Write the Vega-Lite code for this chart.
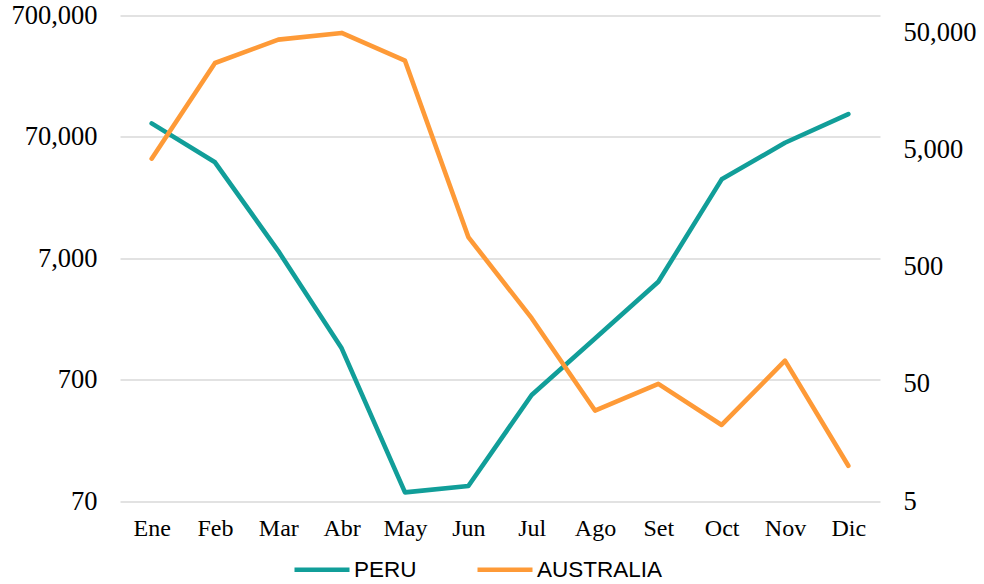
{
  "$schema": "https://vega.github.io/schema/vega-lite/v6.json",
  "width": 760,
  "height": 485.5,
  "autosize": "none",
  "padding": {"left": 120, "top": 15.5, "right": 104, "bottom": 83},
  "background": "white",
  "config": {
    "view": {"stroke": null},
    "axis": {"labelFont": "Liberation Serif", "labelFontSize": 24, "labelColor": "#000000", "domain": false, "ticks": false, "tickSize": 0, "title": null},
    "legend": {"labelFont": "Liberation Sans", "labelFontSize": 22.5, "labelColor": "#000000"}
  },
  "data": {
    "values": [
      {"mes": "Ene", "serie": "PERU", "valor": 90400},
      {"mes": "Feb", "serie": "PERU", "valor": 43200},
      {"mes": "Mar", "serie": "PERU", "valor": 8020},
      {"mes": "Abr", "serie": "PERU", "valor": 1267},
      {"mes": "May", "serie": "PERU", "valor": 82.5},
      {"mes": "Jun", "serie": "PERU", "valor": 93},
      {"mes": "Jul", "serie": "PERU", "valor": 523},
      {"mes": "Ago", "serie": "PERU", "valor": 1527},
      {"mes": "Set", "serie": "PERU", "valor": 4482},
      {"mes": "Oct", "serie": "PERU", "valor": 31270},
      {"mes": "Nov", "serie": "PERU", "valor": 62600},
      {"mes": "Dic", "serie": "PERU", "valor": 107900},
      {"mes": "Ene", "serie": "AUSTRALIA", "valor": 4190},
      {"mes": "Feb", "serie": "AUSTRALIA", "valor": 27500},
      {"mes": "Mar", "serie": "AUSTRALIA", "valor": 43550},
      {"mes": "Abr", "serie": "AUSTRALIA", "valor": 49700},
      {"mes": "May", "serie": "AUSTRALIA", "valor": 28800},
      {"mes": "Jun", "serie": "AUSTRALIA", "valor": 897},
      {"mes": "Jul", "serie": "AUSTRALIA", "valor": 182},
      {"mes": "Ago", "serie": "AUSTRALIA", "valor": 29.6},
      {"mes": "Set", "serie": "AUSTRALIA", "valor": 50},
      {"mes": "Oct", "serie": "AUSTRALIA", "valor": 22.3},
      {"mes": "Nov", "serie": "AUSTRALIA", "valor": 79},
      {"mes": "Dic", "serie": "AUSTRALIA", "valor": 10}
    ]
  },
  "encoding": {
    "x": {
      "field": "mes", "type": "ordinal",
      "sort": ["Ene", "Feb", "Mar", "Abr", "May", "Jun", "Jul", "Ago", "Set", "Oct", "Nov", "Dic"],
      "scale": {"type": "point", "padding": 0.5},
      "axis": {"labelAngle": 0, "labelPadding": 15, "grid": false}
    },
    "color": {
      "field": "serie", "type": "nominal",
      "scale": {"domain": ["PERU", "AUSTRALIA"], "range": ["#119E99", "#FE9A37"]},
      "legend": {
        "title": null, "orient": "none", "direction": "horizontal",
        "legendX": 172, "legendY": 524,
        "symbolType": "stroke", "symbolSize": 3025, "symbolStrokeWidth": 4.5,
        "labelOffset": 2, "columnPadding": 51, "padding": 0
      }
    }
  },
  "layer": [
    {
      "transform": [{"filter": "datum.serie === 'PERU'"}],
      "mark": {"type": "line", "strokeWidth": 4.6, "strokeCap": "round", "strokeJoin": "round"},
      "encoding": {
        "y": {
          "field": "valor", "type": "quantitative",
          "scale": {"type": "log", "domain": [70, 700000], "nice": false},
          "axis": {"orient": "left", "values": [70, 700, 7000, 70000, 700000], "format": ",", "labelFontSize": 26.5, "labelPadding": 23, "grid": true, "gridColor": "#D9D9D9", "gridWidth": 1.5}
        }
      }
    },
    {
      "transform": [{"filter": "datum.serie === 'AUSTRALIA'"}],
      "mark": {"type": "line", "strokeWidth": 4.6, "strokeCap": "round", "strokeJoin": "round"},
      "encoding": {
        "y": {
          "field": "valor", "type": "quantitative",
          "scale": {"type": "log", "domain": [5, 70000], "nice": false},
          "axis": {"orient": "right", "values": [5, 50, 500, 5000, 50000], "format": ",", "labelFontSize": 26.5, "labelPadding": 23, "grid": false}
        }
      }
    }
  ],
  "resolve": {"scale": {"y": "independent"}}
}
